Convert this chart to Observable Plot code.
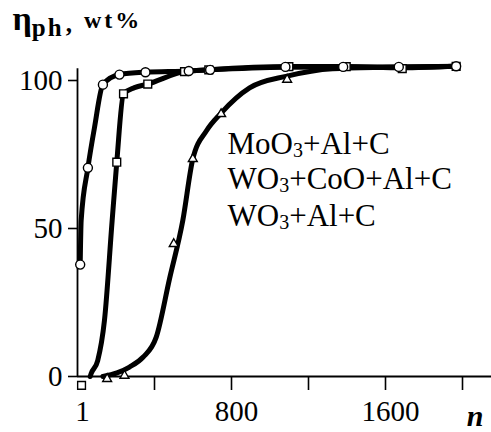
<!DOCTYPE html>
<html><head><meta charset="utf-8">
<script src="https://cdn.jsdelivr.net/npm/d3@7"></script>
<script src="https://cdn.jsdelivr.net/npm/@observablehq/plot@0.6"></script>
<style>
html,body{margin:0;padding:0;background:#fff;}
g[aria-label="x-axis label"] text{font-style:italic;font-weight:bold;font-size:30px;}
</style>
</head><body><div id="chart"></div>
<script>
// ---- axes ----
const xTickMarks = [400, 800, 1200, 1600, 2000];
const xTickValues = [0, 800, 1600];
const xTickLabels = ["1", "800", "1600"];
const yTickValues = [0, 50, 100];
const yTickLabels = ["0", "50", "100"];
const xAxisLabel = "n";
const yLabelParts = ["η", "ph", ",", "wt%"];
const seriesNames = ["MoO3+Al+C", "WO3+CoO+Al+C", "WO3+Al+C"];

// ---- MoO3+Al+C (circles) ----
const moLineN = [14, 19, 54, 88, 132, 218, 353, 578, 689, 1080, 1380, 1669, 1967];
const moLineY = [37.8, 52.7, 70.5, 84, 98.6, 102, 102.8, 103.2, 103.6, 104.5, 104.6, 104.6, 104.8];
const moPointN = [14, 54, 132, 218, 353, 578, 689, 1080, 1380, 1669, 1967];
const moPointY = [37.8, 70.5, 98.6, 102, 102.8, 103.2, 103.6, 104.6, 104.6, 104.6, 104.8];

// ---- WO3+CoO+Al+C (squares) ----
const sqLineN = [66, 71, 105, 140, 180, 204, 239, 296, 365, 556, 682, 1098, 1396, 1687, 1967];
const sqLineY = [0, 1, 5.4, 18.9, 52.7, 72.4, 95.5, 97.6, 98.8, 103, 103.6, 104.7, 104.7, 104.3, 104.8];
const sqPointN = [21, 204, 239, 365, 556, 682, 1098, 1396, 1687, 1967];
const sqPointY = [-3, 72.4, 95.5, 98.8, 103, 103.6, 104.7, 104.7, 104, 104.8];

// ---- WO3+Al+C (triangles) ----
const trLineN = [132, 205, 270, 340, 409, 478, 547, 599, 670, 746, 894, 1089, 1325, 1600, 1967];
const trLineY = [0, 1.2, 3.2, 6.5, 13.3, 33, 52.7, 73.5, 83, 89, 97.5, 101.5, 104, 104.5, 104.8];
const trPointN = [154, 244, 500, 599, 746, 1089];
const trPointY = [-0.8, 0.3, 44.8, 73.5, 88.7, 100.3];

const rows = (ns, ys) => ns.map((n, i) => ({n, v: ys[i]}));
const legendDy = [131, 166, 203];
const yTitle = yLabelParts.join("");

const dotStyle = {x: "n", y: "v", fill: "white", stroke: "black", strokeWidth: 1.4};
const lineStyle = {x: "n", y: "v", curve: "monotone-x", stroke: "black", strokeWidth: 5, strokeLinejoin: "round", strokeLinecap: "round"};

const plot = Plot.plot({
  width: 491, height: 432,
  marginLeft: 77, marginRight: 0, marginTop: 0, marginBottom: 56,
  style: {fontFamily: '"Liberation Serif", serif', fontSize: "29px", color: "#000", background: "#fff", overflow: "visible"},
  x: {domain: [0, 2000], range: [77, 462]},
  y: {domain: [0, 100], range: [376, 80]},
  marks: [
    Plot.ruleY([0], {x1: 0, x2: 2160, stroke: "black", strokeWidth: 1.8}),
    Plot.ruleX([0], {y1: 0, y2: 104, stroke: "black", strokeWidth: 1.8}),
    Plot.axisY({ticks: yTickValues, tickFormat: d => yTickLabels[yTickValues.indexOf(d)], tickSize: 9, tickPadding: 6, strokeWidth: 1.6, label: null, fontSize: 29}),
    Plot.axisX({ticks: xTickMarks, tickSize: 14, tickFormat: () => "", strokeWidth: 1.6, label: null}),
    Plot.axisX({ticks: xTickValues, tickSize: 0, tickPadding: 24, fontSize: 29, dx: 5,
      tickFormat: d => xTickLabels[xTickValues.indexOf(d)], label: null}),
    Plot.axisX({ticks: [], tickSize: 0,
      label: xAxisLabel, labelAnchor: "right", labelOffset: 49, labelArrow: "none"}),
    Plot.line(rows(trLineN, trLineY), lineStyle),
    Plot.line(rows(sqLineN, sqLineY), lineStyle),
    Plot.line(rows(moLineN, moLineY), lineStyle),
    Plot.dot(rows(trPointN, trPointY), {...dotStyle, symbol: "triangle", r: 3.3}),
    Plot.dot(rows(sqPointN, sqPointY), {...dotStyle, symbol: "square", r: 4.4}),
    Plot.dot(rows(moPointN, moPointY), {...dotStyle, symbol: "circle", r: 4.5}),
    ...seriesNames.map((s, i) => Plot.text([s], {text: d => d, frameAnchor: "top-left", dx: 150, dy: legendDy[i],
      textAnchor: "start", lineAnchor: "top", fontSize: 31})),
    Plot.text([yTitle], {text: d => d, frameAnchor: "top-left", dx: -65, dy: 7,
      textAnchor: "start", lineAnchor: "top", fontSize: 32, fontWeight: "bold"})
  ]
});
document.getElementById("chart").appendChild(plot);

const allTexts = d3.select(plot).selectAll("text");

// keep the italic axis label "n" inside the right edge
d3.select(plot).selectAll('g[aria-label="x-axis label"] text').attr("dx", -5);

// subscripts in the legend formulas
allTexts.filter(function() { return seriesNames.includes(this.textContent); }).each(function() {
  const t = d3.select(this);
  const s = this.textContent;
  t.text("");
  let prevSub = false;
  s.split(/(\d)/).filter(Boolean).forEach(part => {
    if (/^\d$/.test(part)) {
      t.append("tspan").attr("font-size", 20).attr("dy", 3.5).text(part);
      prevSub = true;
    } else {
      const sp = t.append("tspan").text(part);
      if (prevSub) sp.attr("dy", -3.5);
      prevSub = false;
    }
  });
});

// y title: η with subscript "ph", then ", wt%"
allTexts.filter(function() { return this.textContent === yTitle; }).each(function() {
  const t = d3.select(this);
  t.text("");
  t.append("tspan").attr("font-size", 34).text(yLabelParts[0]);
  t.append("tspan").attr("font-size", 25).attr("dy", 6).attr("letter-spacing", 2).text(yLabelParts[1]);
  t.append("tspan").attr("font-size", 25).attr("dy", -4).attr("dx", 2).text(yLabelParts[2]);
  t.append("tspan").attr("font-size", 24).attr("dy", -4).attr("dx", 12).attr("letter-spacing", 3).text(yLabelParts[3]);
});
</script>
</body></html>
